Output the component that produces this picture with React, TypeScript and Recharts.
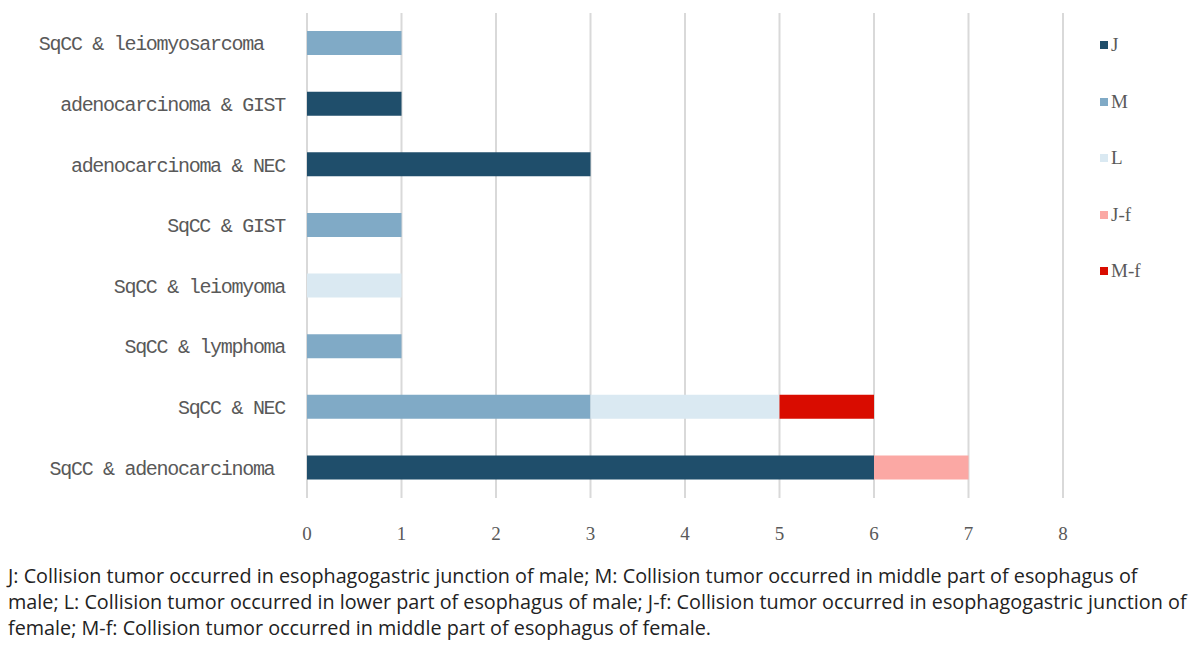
import React from "react";
import { BarChart, Bar, XAxis, YAxis, CartesianGrid } from "recharts";

const categories = [
  "SqCC & leiomyosarcoma  ",
  "adenocarcinoma & GIST",
  "adenocarcinoma & NEC",
  "SqCC & GIST",
  "SqCC & leiomyoma",
  "SqCC & lymphoma",
  "SqCC & NEC",
  "SqCC & adenocarcinoma ",
];
const seriesJ = [0, 1, 3, 0, 0, 0, 0, 6];
const seriesM = [1, 0, 0, 1, 0, 1, 3, 0];
const seriesL = [0, 0, 0, 0, 1, 0, 2, 0];
const seriesJf = [0, 0, 0, 0, 0, 0, 0, 1];
const seriesMf = [0, 0, 0, 0, 0, 0, 1, 0];
const xTicks = [0, 1, 2, 3, 4, 5, 6, 7, 8];

const seriesDefs = [
  { key: "J", name: "J", values: seriesJ, color: "#1F4E6B" },
  { key: "M", name: "M", values: seriesM, color: "#80AAC6" },
  { key: "L", name: "L", values: seriesL, color: "#DAE9F2" },
  { key: "Jf", name: "J-f", values: seriesJf, color: "#FBA8A4" },
  { key: "Mf", name: "M-f", values: seriesMf, color: "#D90C00" },
];

const data = categories.map((c, i) => {
  const row: Record<string, any> = { name: c };
  seriesDefs.forEach((s) => (row[s.key] = s.values[i]));
  return row;
});

const captionLines = [
  "J: Collision tumor occurred in esophagogastric junction of male; M: Collision tumor occurred in middle part of esophagus of",
  "male; L: Collision tumor occurred in lower part of esophagus of male; J-f: Collision tumor occurred in esophagogastric junction of",
  "female; M-f: Collision tumor occurred in middle part of esophagus of female.",
];

const CategoryTick = (props: any) => {
  const { x, y, payload } = props;
  return (
    <text
      x={x}
      y={y}
      dy="0.35em"
      textAnchor="end"
      fill="#595959"
      fontSize={20}
      letterSpacing={-1.3}
      fontFamily="'Liberation Mono', monospace"
      style={{ whiteSpace: "pre" }}
      xmlSpace="preserve"
    >
      {payload.value}
    </text>
  );
};

export default function App() {
  return (
    <div
      style={{
        position: "absolute",
        left: 0,
        top: 0,
        width: 1200,
        height: 646,
        background: "#fff",
      }}
    >
      <BarChart
        width={1200}
        height={550}
        data={data}
        layout="vertical"
        margin={{ top: 13, right: 137, bottom: 2, left: 0 }}
      >
        <CartesianGrid horizontal={false} stroke="#D9D9D9" strokeWidth={2} />
        <XAxis
          type="number"
          domain={[0, 8]}
          ticks={xTicks}
          axisLine={false}
          tickLine={false}
          tickSize={0}
          tickMargin={29}
          height={50}
          tick={{ fill: "#595959", fontSize: 19, fontFamily: "'Liberation Serif', serif" }}
          interval={0}
        />
        <YAxis
          type="category"
          dataKey="name"
          width={307}
          axisLine={false}
          tickLine={false}
          tickSize={0}
          tickMargin={22}
          interval={0}
          tick={<CategoryTick />}
        />
        {seriesDefs.map((s) => (
          <Bar
            key={s.key}
            dataKey={s.key}
            name={s.name}
            stackId="a"
            fill={s.color}
            barSize={24}
            isAnimationActive={false}
          />
        ))}
      </BarChart>
      <div
        style={{
          position: "absolute",
          left: 1100,
          top: 34,
          fontFamily: "'Liberation Serif', serif",
          fontSize: 19,
          color: "#595959",
        }}
      >
        {seriesDefs.map((s) => (
          <div key={s.key} style={{ height: 56.5, display: "flex", alignItems: "flex-start" }}>
            <span
              style={{
                display: "inline-block",
                width: 8,
                height: 8,
                background: s.color,
                marginTop: 7,
                marginRight: 3,
              }}
            />
            <span style={{ lineHeight: "22px" }}>{s.name}</span>
          </div>
        ))}
      </div>
      <div
        style={{
          position: "absolute",
          left: 8,
          top: 563,
          fontFamily: "'Open Sans', sans-serif",
          fontSize: 19.8,
          lineHeight: "26px",
          color: "#222",
          whiteSpace: "nowrap",
        }}
      >
        {captionLines.map((l, i) => (
          <div key={i}>{l}</div>
        ))}
      </div>
    </div>
  );
}
